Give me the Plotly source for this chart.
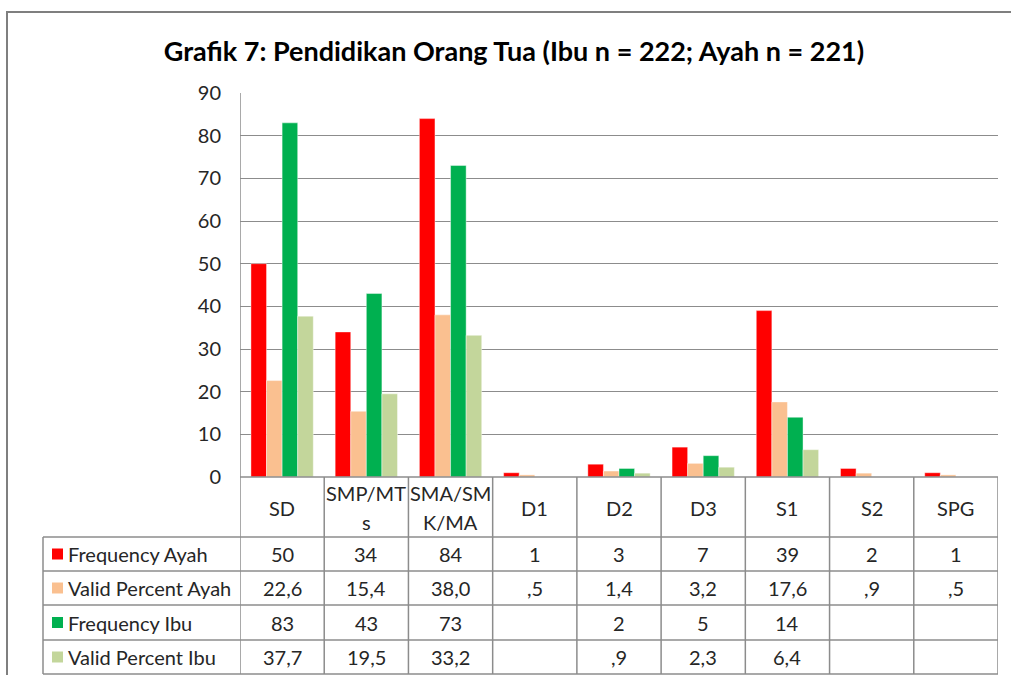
import plotly.graph_objects as go

W, H = 1011, 675

categories = ["SD", "SMP/MTs", "SMA/SMK/MA", "D1", "D2", "D3", "S1", "S2", "SPG"]
category_lines = [["SD"], ["SMP/MT", "s"], ["SMA/SM", "K/MA"], ["D1"], ["D2"], ["D3"],
                  ["S1"], ["S2"], ["SPG"]]

freq_ayah = [50, 34, 84, 1, 3, 7, 39, 2, 1]
pct_ayah = [22.6, 15.4, 38.0, 0.5, 1.4, 3.2, 17.6, 0.9, 0.5]
freq_ibu = [83, 43, 73, None, 2, 5, 14, None, None]
pct_ibu = [37.7, 19.5, 33.2, None, 0.9, 2.3, 6.4, None, None]

series_names = ["Frequency Ayah", "Valid Percent Ayah", "Frequency Ibu", "Valid Percent Ibu"]
series_values = [freq_ayah, pct_ayah, freq_ibu, pct_ibu]
series_colors = ["#FF0000", "#FAC090", "#00B050", "#C3D69B"]
series_is_pct = [False, True, False, True]

y_ticks = [0, 10, 20, 30, 40, 50, 60, 70, 80, 90]

FONT = "Lato"
FS = 20
TXT = "#262626"
LINE = "#8c8c8c"


def px(x):
    return x / W


def py(y):
    return 1 - y / H


def fmt(v, pct):
    if v is None:
        return ""
    if not pct:
        return str(int(v))
    s = f"{v:.1f}".replace(".", ",")
    if s.startswith("0,"):
        s = s[1:]
    return s


fig = go.Figure()
for name, vals, col in zip(series_names, series_values, series_colors):
    fig.add_trace(go.Bar(
        x=list(range(len(categories))), y=vals, name=name,
        marker=dict(color=col, line=dict(width=0.6, color="rgba(255,255,255,0.7)")),
    ))

n = len(categories)
shapes = []
annotations = []

# outer frame
shapes.append(dict(type="rect", xref="paper", yref="paper",
                   x0=px(7), x1=px(1020), y0=py(685), y1=py(12),
                   line=dict(color="#7f7f7f", width=2)))

# table rows
row_lines = [537, 571, 605, 640, 674]
shapes.append(dict(type="line", xref="paper", yref="paper",
                   x0=px(240), x1=px(998), y0=py(477), y1=py(477),
                   line=dict(color=LINE, width=1.5)))
for yy in row_lines:
    shapes.append(dict(type="line", xref="paper", yref="paper",
                       x0=px(43), x1=px(998), y0=py(yy), y1=py(yy),
                       line=dict(color=LINE, width=1.5)))
# vertical table lines
shapes.append(dict(type="line", xref="paper", yref="paper",
                   x0=px(43), x1=px(43), y0=py(537), y1=py(674),
                   line=dict(color=LINE, width=1.5)))
shapes.append(dict(type="line", xref="x", yref="paper",
                   x0=-0.5, x1=-0.5, y0=py(93), y1=py(674),
                   line=dict(color=LINE, width=1.5)))
for i in range(n):
    shapes.append(dict(type="line", xref="x", yref="paper",
                       x0=i + 0.5, x1=i + 0.5, y0=py(477), y1=py(674),
                       line=dict(color=LINE, width=1.5)))

# header row labels
for i, lines in enumerate(category_lines):
    if len(lines) == 1:
        ys = [508]
    else:
        ys = [493, 522]
    for t, yy in zip(lines, ys):
        annotations.append(dict(x=i, y=py(yy), xref="x", yref="paper", text=t,
                                showarrow=False, xanchor="center", yanchor="middle",
                                font=dict(family=FONT, size=FS, color=TXT)))

# data rows
row_centers = [554, 588, 622.5, 657]
for r, (name, vals, col, pct) in enumerate(zip(series_names, series_values,
                                               series_colors, series_is_pct)):
    yc = row_centers[r]
    shapes.append(dict(type="rect", xref="paper", yref="paper",
                       x0=px(52), x1=px(63), y0=py(yc + 5.5), y1=py(yc - 5.5),
                       fillcolor=col, line=dict(width=0)))
    annotations.append(dict(x=px(66), y=py(yc), xref="paper", yref="paper", text=name,
                            showarrow=False, xanchor="left", yanchor="middle",
                            font=dict(family=FONT, size=FS, color=TXT)))
    for i, v in enumerate(vals):
        annotations.append(dict(x=i, y=py(yc), xref="x", yref="paper", text=fmt(v, pct),
                                showarrow=False, xanchor="center", yanchor="middle",
                                font=dict(family=FONT, size=FS, color=TXT)))

fig.update_layout(
    template="none",
    width=W, height=H,
    margin=dict(l=0, r=0, t=0, b=0, pad=0),
    paper_bgcolor="white", plot_bgcolor="white",
    showlegend=False,
    barmode="group", bargap=0.26, bargroupgap=0,
    title=dict(text="<b>Grafik 7: Pendidikan Orang Tua (Ibu n = 222; Ayah n = 221)</b>",
               x=px(514), y=py(52), xanchor="center", yanchor="middle",
               font=dict(family=FONT, size=27, color="#000000")),
    xaxis=dict(domain=[px(240), px(998)], range=[-0.5, n - 0.5], automargin=False,
               showticklabels=False, showgrid=False, zeroline=False, ticks="",
               showline=False),
    yaxis=dict(domain=[py(477), py(93)], range=[0, 90], tickvals=y_ticks, automargin=False,
               showgrid=True, gridcolor=LINE, gridwidth=1, zeroline=False,
               showline=False, ticks="", ticklabelstandoff=18,
               tickfont=dict(family=FONT, size=FS, color=TXT)),
    shapes=shapes, annotations=annotations,
)

fig.write_html("out.html", config={"displayModeBar": False},
               post_script="document.body.style.margin='0';document.body.style.padding='0';"
                           "document.body.style.overflow='hidden';")
